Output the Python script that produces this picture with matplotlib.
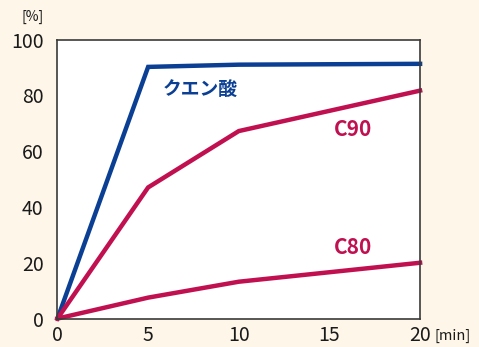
import matplotlib.pyplot as plt

plt.rcParams['font.family'] = ['Noto Sans CJK JP', 'DejaVu Sans']

# elution rate over time
minutes = [0, 5, 10, 20]
citric = [0, 90.2, 91.0, 91.3]
c90 = [0, 47, 67.2, 81.7]
c80 = [0, 7.5, 13.2, 20]

blue = '#0b3f93'
red = '#c0104f'
bg = '#fdf6e9'

fig = plt.figure(figsize=(4.79, 3.47), dpi=100, facecolor=bg)
ax = fig.add_axes([0.120, 0.082, 0.757, 0.804])
ax.set_facecolor('white')

ax.plot(minutes, citric, color=blue, lw=3.2, solid_joinstyle='miter', clip_on=False)
ax.plot(minutes, c90, color=red, lw=3.2, solid_joinstyle='miter', clip_on=False)
ax.plot(minutes, c80, color=red, lw=3.2, solid_joinstyle='miter', clip_on=False)

ax.text(5.8, 82, 'クエン酸', color=blue, fontsize=13.5, fontweight='bold', va='center')
ax.text(15.25, 67.6, 'C90', color=red, fontsize=15, fontweight='bold', va='center')
ax.text(15.25, 25.6, 'C80', color=red, fontsize=15, fontweight='bold', va='center')

ax.set_xlim(0, 20)
ax.set_ylim(0, 100)
ax.set_xticks([0, 5, 10, 15, 20])
ax.set_yticks([0, 20, 40, 60, 80, 100])
ax.tick_params(length=0, labelsize=14, colors='#1a1a1a')
ax.tick_params(axis='y', pad=10)
ax.tick_params(axis='x', pad=5)
for s in ax.spines.values():
    s.set_color('#3a3a3a')
    s.set_linewidth(1.2)

fig.text(33 / 479, 1 - 17 / 347, '[%]', fontsize=10, ha='center', va='center', color='#1a1a1a')
fig.text(453 / 479, 1 - 336 / 347, '[min]', fontsize=10.5, ha='center', va='center', color='#1a1a1a')

fig.savefig('out.png', dpi=100, facecolor=bg)
